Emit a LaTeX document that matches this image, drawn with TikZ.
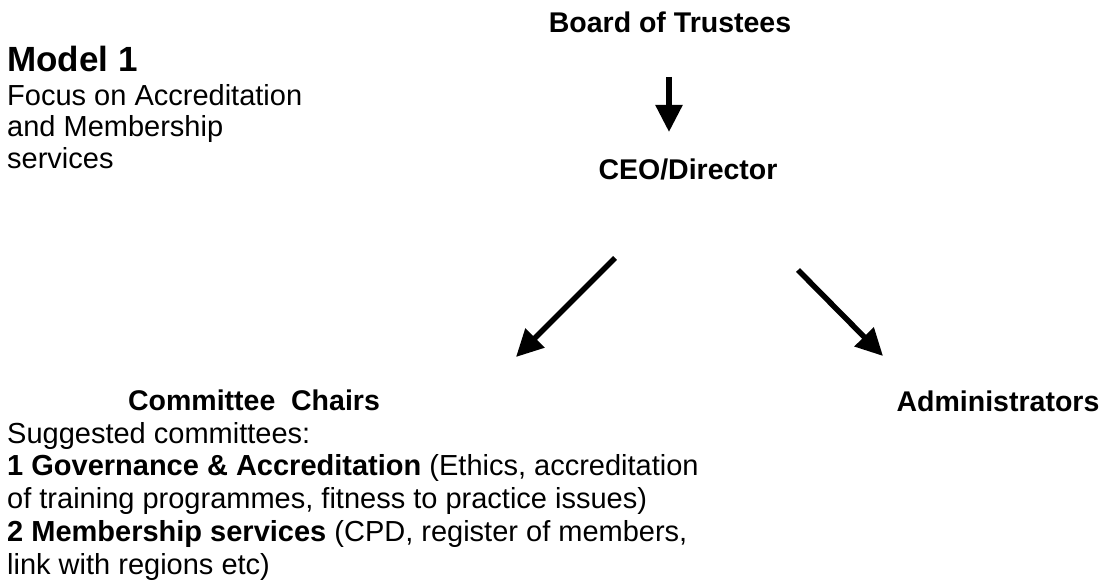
\documentclass[tikz,border=0pt]{standalone}
\usepackage{fontspec}
\setmainfont{Liberation Sans}
\usetikzlibrary{arrows.meta}

\begin{document}
\begin{tikzpicture}[x=1pt, y=-1pt,
    title/.style={font=\fontsize{35}{40}\selectfont\bfseries, inner sep=0pt, anchor=base west},
    level/.style={font=\fontsize{28.5}{33}\selectfont\bfseries, inner sep=0pt, anchor=base},
    note/.style={font=\fontsize{29}{31.3}\selectfont, inner sep=0pt, anchor=base west, align=left},
    list/.style={font=\fontsize{29}{32.75}\selectfont, inner sep=0pt, anchor=base west, align=left},
    arrow/.style={line width=5.5pt, -{Triangle[width=26pt,length=27pt]}}
]

\useasboundingbox (0,0) rectangle (1104,585);

% Heading (multi-line nodes sit on their last line)
\node[title] (model) at (7,71.7) {Model 1};
\node[note] (focus) at (7,168.3) {Focus on Accreditation\\and Membership\\services};

% Org chart levels
\node[level] (board) at (670,33) {Board of Trustees};
\node[level] (ceo) at (688,179.5) {CEO/Director};
\node[level] (chairs) at (254,410) {Committee\ \ Chairs};
\node[level] (admin) at (998,412) {Administrators};

% Committee list
\node[list] (committees) at (7,574) {Suggested committees:\\
\textbf{1 Governance \& Accreditation} (Ethics, accreditation\\
of training programmes, fitness to practice issues)\\
\textbf{2 Membership services} (CPD, register of members,\\
link with regions etc)};

% Arrow ends
\coordinate (boardOut) at (669,77);
\coordinate (ceoIn) at (669,132);
\coordinate (ceoOutL) at (615,258);
\coordinate (chairsIn) at (516,357);
\coordinate (ceoOutR) at (798,270);
\coordinate (adminIn) at (883,356);

% Arrows
\draw[arrow] (boardOut) -- (ceoIn);
\draw[arrow] (ceoOutL) -- (chairsIn);
\draw[arrow] (ceoOutR) -- (adminIn);

\end{tikzpicture}
\end{document}
